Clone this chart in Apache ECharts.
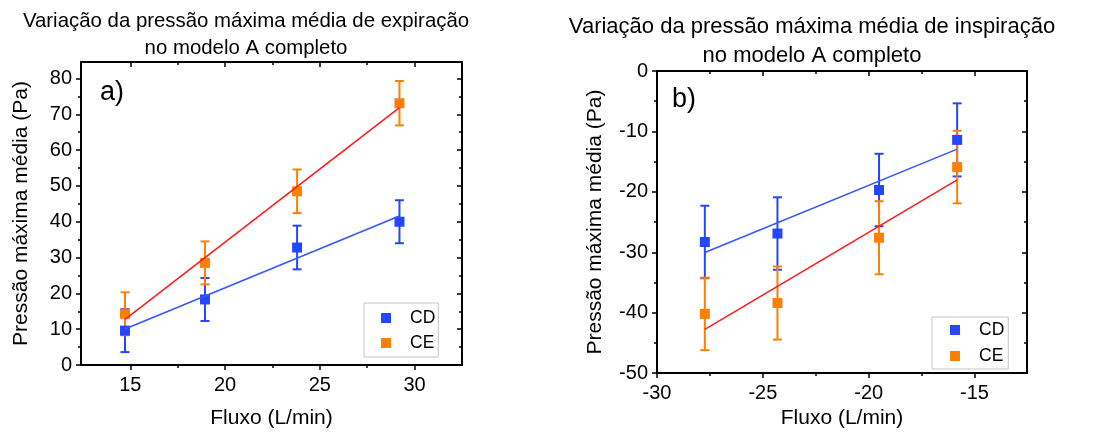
<!DOCTYPE html>
<html>
<head>
<meta charset="utf-8">
<script src="https://cdn.jsdelivr.net/npm/echarts@6/dist/echarts.min.js"></script>
<style>
  html, body { margin: 0; padding: 0; background: #fff; }
  #chart { width: 1096px; height: 434px; }
</style>
</head>
<body>
<div id="chart"></div>
<script>
// a) expiração
const fluxoA = [14.72, 18.94, 23.8, 29.2];
const cdA = [9.6, 18.3, 32.8, 40.0];
const cdErrA = [6.0, 6.0, 6.1, 6.0];
const ceA = [14.3, 28.5, 48.5, 73.1];
const ceErrA = [6.0, 6.0, 6.1, 6.2];

// b) inspiração
const fluxoB = [-27.74, -24.31, -19.51, -15.82];
const cdB = [-28.3, -26.9, -19.7, -11.4];
const cdErrB = [6.0, 6.0, 6.0, 6.05];
const ceB = [-40.2, -38.4, -27.6, -15.9];
const ceErrB = [6.0, 6.05, 6.05, 6.0];

// tick values
const xTicksA = [15, 20, 25, 30];
const xMinorA = [17.5, 22.5, 27.5];
const yTicksA = [0, 10, 20, 30, 40, 50, 60, 70, 80];
const yMinorA = [5, 15, 25, 35, 45, 55, 65, 75];
const xTicksB = [-30, -25, -20, -15];
const xMinorB = [-27.5, -22.5, -17.5];
const yTicksB = [-50, -40, -30, -20, -10, 0];
const yMinorB = [-45, -35, -25, -15, -5];

const FONT = "'Liberation Sans', Arial, sans-serif";
const BLUE = '#2446ff';
const ORANGE = '#ff8000';
const BLUE_FIT = '#3456ff';
const RED_FIT = '#ff1a1a';

const chart = echarts.init(document.getElementById('chart'));

// least squares line through the points, from first x to last x
const fitLine = (xs, ys) => {
  const n = xs.length;
  const mx = xs.reduce((a, b) => a + b, 0) / n;
  const my = ys.reduce((a, b) => a + b, 0) / n;
  let sxy = 0, sxx = 0;
  xs.forEach((x, i) => { sxy += (x - mx) * (ys[i] - my); sxx += (x - mx) * (x - mx); });
  const k = sxy / sxx;
  const x0 = Math.min(...xs), x1 = Math.max(...xs);
  return [[x0, my + k * (x0 - mx)], [x1, my + k * (x1 - mx)]];
};

// four axes per side pair: main (labels + major), main minor, mirror, mirror minor
const frameAxes = (grid, sides, min, max, major, minor, name, nameGap, labelMargin) => {
  const base = {
    type: 'value', gridIndex: grid, min: min, max: max,
    splitLine: { show: false },
    axisPointer: { show: false }
  };
  const line = { show: true, onZero: false, lineStyle: { color: '#000', width: 2 } };
  const tick = (vals, len, inside) => ({
    show: true, inside: inside, length: len, customValues: vals,
    lineStyle: { color: '#000', width: 1.5 }
  });
  return [
    Object.assign({}, base, {
      position: sides[0],
      axisLine: line,
      axisTick: tick(major, 5, false),
      axisLabel: { show: true, customValues: major, color: '#000', fontSize: 20, fontFamily: FONT, margin: labelMargin },
      name: name, nameLocation: 'middle', nameGap: nameGap,
      nameTextStyle: { color: '#000', fontSize: 21, fontFamily: FONT }
    }),
    Object.assign({}, base, {
      position: sides[0],
      axisLine: { show: false, onZero: false },
      axisTick: tick(minor, 3, false),
      axisLabel: { show: false }
    }),
    Object.assign({}, base, {
      position: sides[1],
      axisLine: line,
      axisTick: tick(major, 5, true),
      axisLabel: { show: false }
    }),
    Object.assign({}, base, {
      position: sides[1],
      axisLine: { show: false, onZero: false },
      axisTick: tick(minor, 3, true),
      axisLabel: { show: false }
    })
  ];
};

const errorSeries = (name, xs, ys, es, color, axisIdx) => ({
  name: name, type: 'custom', xAxisIndex: axisIdx, yAxisIndex: axisIdx, silent: true,
  data: xs.map((x, i) => [x, ys[i] - es[i], ys[i] + es[i]]),
  encode: { x: 0, y: [1, 2] },
  renderItem: (params, api) => {
    const lo = api.coord([api.value(0), api.value(1)]);
    const hi = api.coord([api.value(0), api.value(2)]);
    const half = 4.5;
    const style = { stroke: color, lineWidth: 2 };
    return {
      type: 'group',
      children: [
        { type: 'line', shape: { x1: lo[0], y1: lo[1], x2: hi[0], y2: hi[1] }, style: style },
        { type: 'line', shape: { x1: lo[0] - half, y1: lo[1], x2: lo[0] + half, y2: lo[1] }, style: style },
        { type: 'line', shape: { x1: hi[0] - half, y1: hi[1], x2: hi[0] + half, y2: hi[1] }, style: style }
      ]
    };
  }
});

const pointSeries = (name, xs, ys, color, axisIdx) => ({
  name: name, type: 'scatter', xAxisIndex: axisIdx, yAxisIndex: axisIdx,
  symbol: 'rect', symbolSize: 10,
  itemStyle: { color: color, opacity: 1 },
  data: xs.map((x, i) => [x, ys[i]])
});

const fitSeries = (name, xs, ys, color, axisIdx) => ({
  name: name, type: 'line', xAxisIndex: axisIdx, yAxisIndex: axisIdx,
  showSymbol: false, silent: true,
  lineStyle: { color: color, width: 1.5 },
  data: fitLine(xs, ys)
});

const legendBox = (left, top, padding, gap, lineHeight) => ({
  orient: 'vertical', left: left, top: top, padding: padding, itemGap: gap,
  itemWidth: 10, itemHeight: 10, icon: 'rect', selectedMode: false,
  backgroundColor: '#fff', borderColor: '#c4c4c4', borderWidth: 1,
  data: ['CD', 'CE'],
  itemStyle: { opacity: 1 },
  textStyle: { color: '#000', fontSize: 17.5, fontFamily: FONT, lineHeight: lineHeight, padding: [0, 0, 0, 14] }
});

const option = {
  animation: false,
  backgroundColor: '#fff',
  grid: [
    { left: 81, top: 62, width: 381, height: 304 },
    { left: 657, top: 71, width: 370, height: 305 }
  ],
  xAxis: [].concat(
    frameAxes(0, ['bottom', 'top'], 12.4, 32.5, xTicksA, xMinorA, 'Fluxo (L/min)', 43, 10),
    frameAxes(1, ['bottom', 'top'], -30, -12.52, xTicksB, xMinorB, 'Fluxo (L/min)', 32, 10)
  ),
  yAxis: [].concat(
    frameAxes(0, ['left', 'right'], 0, 84.6, yTicksA, yMinorA, 'Pressão máxima média (Pa)', 49, 9),
    frameAxes(1, ['left', 'right'], -50, 0, yTicksB, yMinorB, 'Pressão máxima média (Pa)', 51, 9)
  ),
  legend: [
    legendBox(364, 303, [6, 3, 5, 17], 7, 14),
    legendBox(932, 317, [4, 4, 4, 18], 8, 16)
  ],
  graphic: [
    { type: 'text', x: 246, y: 8, style: { text: 'Variação da pressão máxima média de expiração\nno modelo A completo', fill: '#000', font: '20.4px ' + FONT, textAlign: 'center', textVerticalAlign: 'top', lineHeight: 27 } },
    { type: 'text', x: 812, y: 12, style: { text: 'Variação da pressão máxima média de inspiração\nno modelo A completo', fill: '#000', font: '22px ' + FONT, textAlign: 'center', textVerticalAlign: 'top', lineHeight: 29.5 } },
    { type: 'text', x: 100, y: 93, style: { text: 'a)', fill: '#000', font: '27px ' + FONT, textAlign: 'left', textVerticalAlign: 'middle' } },
    { type: 'text', x: 672, y: 100, style: { text: 'b)', fill: '#000', font: '27px ' + FONT, textAlign: 'left', textVerticalAlign: 'middle' } }
  ],
  series: [
    errorSeries('CD erro', fluxoA, cdA, cdErrA, BLUE, 0),
    pointSeries('CD', fluxoA, cdA, BLUE, 0),
    errorSeries('CE erro', fluxoA, ceA, ceErrA, ORANGE, 0),
    pointSeries('CE', fluxoA, ceA, ORANGE, 0),
    fitSeries('CD ajuste', fluxoA, cdA, BLUE_FIT, 0),
    fitSeries('CE ajuste', fluxoA, ceA, RED_FIT, 0),

    errorSeries('CD erro', fluxoB, cdB, cdErrB, BLUE, 4),
    pointSeries('CD', fluxoB, cdB, BLUE, 4),
    errorSeries('CE erro', fluxoB, ceB, ceErrB, ORANGE, 4),
    pointSeries('CE', fluxoB, ceB, ORANGE, 4),
    fitSeries('CD ajuste', fluxoB, cdB, BLUE_FIT, 4),
    fitSeries('CE ajuste', fluxoB, ceB, RED_FIT, 4)
  ]
};

chart.setOption(option);
</script>
</body>
</html>
